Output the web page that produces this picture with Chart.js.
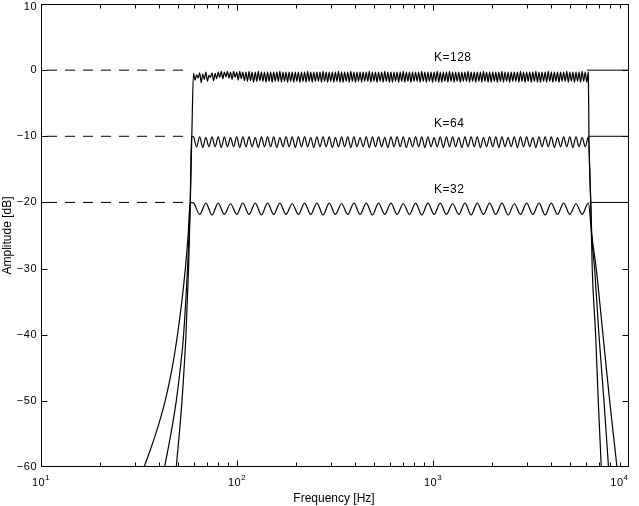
<!DOCTYPE html>
<html>
<head>
<meta charset="utf-8">
<script src="https://cdn.jsdelivr.net/npm/chart.js@4.4.0/dist/chart.umd.min.js"></script>
<style>
  html, body { margin: 0; padding: 0; background: #fff; }
</style>
</head>
<body>
<canvas id="myChart" width="639" height="506"></canvas>
<script>
// axis ranges
const freqRange = [10, 10000]
const ampRange = [-60, 10]
const xMajorTicks = [10, 100, 1000, 10000]
const xTickExp = ['1', '2', '3', '4']
const xMinorTicks = [20, 30, 40, 50, 60, 70, 80, 90, 200, 300, 400, 500, 600, 700, 800, 900,
  2000, 3000, 4000, 5000, 6000, 7000, 8000, 9000]
const yTicks = [-60, -50, -40, -30, -20, -10, 0, 10]

// frequencies (Hz) of the ripple peaks / troughs across the pass band
const rippleHz = [
  60, 61.1, 62.21, 63.35, 64.51, 65.69, 66.89, 68.11, 69.36, 70.63, 71.92, 73.23, 74.57, 75.94, 77.32, 78.74,
  80.18, 81.64, 83.13, 84.65, 86.2, 87.78, 89.38, 91.02, 92.68, 94.37, 96.1, 97.86, 99.65, 101.5, 103.3, 105.2,
  107.1, 109.1, 111.1, 113.1, 115.2, 117.3, 119.4, 121.6, 123.9, 126.1, 128.4, 130.8, 133.2, 135.6, 138.1, 140.6,
  143.2, 145.8, 148.5, 151.2, 153.9, 156.7, 159.6, 162.5, 165.5, 168.5, 171.6, 174.7, 177.9, 181.2, 184.5, 187.9,
  191.3, 194.8, 198.4, 202, 205.7, 209.4, 213.3, 217.2, 221.2, 225.2, 229.3, 233.5, 237.8, 242.1, 246.5, 251.1,
  255.6, 260.3, 265.1, 269.9, 274.8, 279.9, 285, 290.2, 295.5, 300.9, 306.4, 312, 317.7, 323.5, 329.5, 335.5,
  341.6, 347.8, 354.2, 360.7, 367.3, 374, 380.8, 387.8, 394.9, 402.1, 409.4, 416.9, 424.6, 432.3, 440.2, 448.3,
  456.5, 464.8, 473.3, 482, 490.8, 499.8, 508.9, 518.2, 527.7, 537.3, 547.1, 557.1, 567.3, 577.7, 588.3, 599,
  610, 621.1, 632.5, 644.1, 655.8, 667.8, 680, 692.4, 705.1, 718, 731.1, 744.5, 758.1, 772, 786.1, 800.5,
  815.1, 830, 845.2, 860.6, 876.3, 892.4, 908.7, 925.3, 942.2, 959.4, 977, 994.9, 1013, 1032, 1050, 1070,
  1089, 1109, 1129, 1150, 1171, 1192, 1214, 1236, 1259, 1282, 1305, 1329, 1354, 1378, 1404, 1429,
  1455, 1482, 1509, 1537, 1565, 1593, 1623, 1652, 1682, 1713, 1745, 1776, 1809, 1842, 1876, 1910,
  1945, 1980, 2017, 2054, 2091, 2129, 2168, 2208, 2248, 2289, 2331, 2374, 2417, 2461, 2506, 2552,
  2599, 2646, 2695, 2744, 2794, 2845, 2897, 2950, 3004, 3059, 3115, 3172, 3230, 3289, 3349, 3410,
  3473, 3536, 3601, 3667, 3734, 3802, 3871, 3942, 4014, 4088, 4162, 4238, 4316, 4395, 4475, 4557,
  4640, 4725, 4812, 4900, 4989, 5080, 5173, 5268, 5364, 5462, 5562, 5664, 5767, 5873, 5980, 6090,
  6201
]

// K=32 ripple, sits on every 4th entry of rippleHz
const k32Ripple = [
  -20.1, -21.8, -20.1, -21.9, -20.1, -21.8, -20.2, -21.8, -20.1, -21.8, -20.1, -21.9, -20.1, -21.8, -20.1, -21.8,
  -20.2, -21.8, -20.1, -21.8, -20.1, -21.9, -20.1, -21.8, -20.2, -21.8, -20.1, -21.8, -20.1, -21.9, -20.1, -21.8,
  -20.1, -21.8, -20.2, -21.8, -20.1, -21.9, -20.1, -21.8, -20.1, -21.8, -20.2, -21.8, -20.1, -21.9, -20.1, -21.8,
  -20.1, -21.8, -20.1, -21.9, -20.2, -21.8, -20.1, -21.8, -20.1, -21.9, -20.1, -21.8, -20.1, -21.8, -20.2, -21.8,
  -20.1
]
// K=64 ripple, every 2nd entry of rippleHz
const k64Ripple = [
  -10.1, -11.6, -10.1, -11.7, -10.2, -11.6, -10.1, -11.6, -10.1, -11.7, -10.1, -11.6, -10.2, -11.6, -10.1, -11.7,
  -10.1, -11.6, -10.1, -11.6, -10.2, -11.7, -10.1, -11.6, -10.1, -11.6, -10.1, -11.7, -10.2, -11.6, -10.1, -11.6,
  -10.1, -11.7, -10.1, -11.6, -10.1, -11.6, -10.2, -11.7, -10.1, -11.6, -10.1, -11.6, -10.1, -11.7, -10.2, -11.6,
  -10.1, -11.6, -10.1, -11.7, -10.1, -11.6, -10.2, -11.6, -10.1, -11.7, -10.1, -11.6, -10.1, -11.6, -10.2, -11.7,
  -10.1, -11.6, -10.1, -11.6, -10.1, -11.7, -10.2, -11.6, -10.1, -11.6, -10.1, -11.7, -10.1, -11.6, -10.2, -11.6,
  -10.1, -11.7, -10.1, -11.6, -10.1, -11.6, -10.2, -11.7, -10.1, -11.6, -10.1, -11.6, -10.1, -11.7, -10.2, -11.6,
  -10.1, -11.6, -10.1, -11.7, -10.1, -11.6, -10.2, -11.6, -10.1, -11.7, -10.1, -11.6, -10.1, -11.6, -10.2, -11.7,
  -10.1, -11.6, -10.1, -11.6, -10.1, -11.7, -10.2, -11.6, -10.1, -11.6, -10.1, -11.7, -10.1, -11.6, -10.2, -11.6,
  -10.1
]
// K=128 ripple, every entry of rippleHz (ragged near the lower edge)
const k128Ripple = [
  -0.5, -1.5, -0.7, -1.2, -0.4, -1.9, -0.6, -1.4, -0.3, -1.7, -0.8, -1.1, -0.4, -1.6, -0.5, -1.3,
  -0.3, -1.1, -0.2, -1.3, -0.3, -1.0, -0.2, -1.2, -0.3, -1.4, -0.2, -1.1, -0.3, -1.5, -0.2, -1.3,
  -0.3, -1.6, -0.3, -1.7, -0.2, -1.6, -0.3, -1.8, -0.3, -1.7, -0.2, -1.6, -0.3, -1.7, -0.3, -1.8,
  -0.3, -1.7, -0.3, -1.8, -0.3, -1.7, -0.3, -1.7, -0.2, -1.8, -0.3, -1.7, -0.3, -1.8, -0.3, -1.7,
  -0.3, -1.8, -0.3, -1.7, -0.3, -1.8, -0.3, -1.7, -0.3, -1.8, -0.2, -1.7, -0.3, -1.8, -0.3, -1.7,
  -0.3, -1.7, -0.3, -1.8, -0.2, -1.7, -0.3, -1.8, -0.3, -1.7, -0.3, -1.8, -0.3, -1.7, -0.2, -1.8,
  -0.3, -1.8, -0.3, -1.7, -0.3, -1.8, -0.2, -1.7, -0.3, -1.8, -0.3, -1.7, -0.3, -1.8, -0.3, -1.7,
  -0.3, -1.7, -0.2, -1.8, -0.3, -1.7, -0.3, -1.8, -0.3, -1.7, -0.3, -1.8, -0.2, -1.7, -0.3, -1.8,
  -0.3, -1.8, -0.3, -1.7, -0.3, -1.8, -0.3, -1.7, -0.2, -1.8, -0.3, -1.7, -0.3, -1.8, -0.3, -1.7,
  -0.3, -1.7, -0.3, -1.8, -0.2, -1.7, -0.3, -1.8, -0.3, -1.7, -0.3, -1.8, -0.3, -1.7, -0.2, -1.8,
  -0.3, -1.8, -0.3, -1.7, -0.3, -1.8, -0.2, -1.7, -0.3, -1.8, -0.3, -1.7, -0.3, -1.8, -0.3, -1.7,
  -0.3, -1.7, -0.2, -1.8, -0.3, -1.7, -0.3, -1.8, -0.3, -1.7, -0.3, -1.8, -0.2, -1.7, -0.3, -1.8,
  -0.3, -1.8, -0.3, -1.7, -0.3, -1.8, -0.3, -1.7, -0.2, -1.8, -0.3, -1.7, -0.3, -1.8, -0.3, -1.7,
  -0.3, -1.7, -0.3, -1.8, -0.2, -1.7, -0.3, -1.8, -0.3, -1.7, -0.3, -1.8, -0.3, -1.7, -0.2, -1.8,
  -0.3, -1.8, -0.3, -1.7, -0.3, -1.8, -0.2, -1.7, -0.3, -1.8, -0.3, -1.7, -0.3, -1.8, -0.3, -1.7,
  -0.3, -1.7, -0.2, -1.8, -0.3, -1.7, -0.3, -1.8, -0.3, -1.7, -0.3, -1.8, -0.2, -1.7, -0.3, -1.8,
  -0.3
]

// skirts below and above the pass band
const k32LowHz = [33.6, 38.5, 43.0, 46.7, 49.7, 52.3, 54.5, 56.3, 57.7]
const k32LowDb = [-60, -55, -50, -45, -40, -35, -30, -25, -20]
const k64LowHz = [42.7, 46.0, 49.0, 51.4, 53.4, 55.9, 57.7, 58.6]
const k64LowDb = [-60, -55, -50, -45, -40, -30, -20, -10]
const k128LowHz = [49.0, 52.4, 54.9, 56.6, 57.8, 58.8]
const k128LowDb = [-60, -50, -40, -30, -20, -10]

const k32HighHz = [6460, 6804, 7364, 7968, 8681]
const k32HighDb = [-25, -30, -40, -50, -60]
const k64HighHz = [6380, 6460, 6677, 7024, 7451, 7860]
const k64HighDb = [-20, -25, -30, -40, -50, -60]
const k128HighHz = [6245, 6380, 6492, 6757, 6968, 7220]
const k128HighDb = [-10, -20, -30, -40, -50, -60]

// reference levels: dashed left part, solid right part
const refLevels = [0, -10, -20]
const refLabels = ['K=128', 'K=64', 'K=32']
const refDashEndHz = [58, 58.5, 58]
const refSolidStartHz = [6100, 6200, 6300]
const refLabelHz = 1000

function curve(lowHz, lowDb, ripple, step, highHz, highDb) {
  const pts = lowHz.map((f, i) => ({x: f, y: lowDb[i]}))
  ripple.forEach((db, i) => pts.push({x: rippleHz[i * step], y: db}))
  highHz.forEach((f, i) => pts.push({x: f, y: highDb[i]}))
  return pts
}

const datasets = [
  {data: curve(k32LowHz, k32LowDb, k32Ripple, 4, k32HighHz, k32HighDb), cubicInterpolationMode: 'monotone'},
  {data: curve(k64LowHz, k64LowDb, k64Ripple, 2, k64HighHz, k64HighDb), cubicInterpolationMode: 'monotone'},
  {data: curve(k128LowHz, k128LowDb, k128Ripple, 1, k128HighHz, k128HighDb), cubicInterpolationMode: 'monotone'}
]
refLevels.forEach((lv, i) => {
  datasets.push({data: [{x: freqRange[0], y: lv}, {x: refDashEndHz[i], y: lv}], borderDash: [10, 8], borderDashOffset: 12, borderWidth: 1})
  datasets.push({data: [{x: refSolidStartHz[i], y: lv}, {x: freqRange[1], y: lv}], borderWidth: 1})
})

const font = "'Liberation Sans', Arial, Helvetica, sans-serif"

// box, inward ticks and texts in the old matlab style
const matlabAxes = {
  id: 'matlabAxes',
  afterDraw(chart) {
    const ctx = chart.ctx
    const a = chart.chartArea
    const sx = chart.scales.x
    const sy = chart.scales.y
    const left = Math.floor(a.left) + 0.5
    const right = Math.ceil(a.right) - 0.5
    const top = Math.floor(a.top) + 0.5
    const bottom = Math.ceil(a.bottom) - 0.5
    const px = v => Math.min(right, Math.round(sx.getPixelForValue(v)) + 0.5)
    const py = v => Math.min(bottom, Math.round(sy.getPixelForValue(v)) + 0.5)

    ctx.save()
    ctx.strokeStyle = '#000'
    ctx.lineWidth = 1
    ctx.beginPath()
    xMajorTicks.forEach(v => {
      const X = px(v)
      ctx.moveTo(X, bottom); ctx.lineTo(X, bottom - 6)
      ctx.moveTo(X, top); ctx.lineTo(X, top + 6)
    })
    xMinorTicks.forEach(v => {
      const X = px(v)
      ctx.moveTo(X, bottom); ctx.lineTo(X, bottom - 4)
      ctx.moveTo(X, top); ctx.lineTo(X, top + 4)
    })
    yTicks.forEach(v => {
      const Y = py(v)
      ctx.moveTo(left, Y); ctx.lineTo(left + 6, Y)
      ctx.moveTo(right, Y); ctx.lineTo(right - 6, Y)
    })
    ctx.stroke()
    ctx.strokeRect(left, top, right - left, bottom - top)

    ctx.fillStyle = '#000'
    ctx.letterSpacing = '0.5px'
    // y tick labels
    ctx.font = '11px ' + font
    ctx.textAlign = 'right'
    ctx.textBaseline = 'middle'
    yTicks.forEach(v => {
      const txt = v < 0 ? '\u2212' + (-v) : String(v)
      ctx.fillText(txt, 37, Math.max(7, sy.getPixelForValue(v)))
    })
    // x tick labels 10^n
    ctx.textAlign = 'left'
    ctx.textBaseline = 'alphabetic'
    xMajorTicks.forEach((v, i) => {
      ctx.font = '11px ' + font
      const wBase = ctx.measureText('10').width
      ctx.font = '8px ' + font
      const wExp = ctx.measureText(xTickExp[i]).width
      let x0 = sx.getPixelForValue(v) - (wBase + wExp) / 2
      if (x0 + wBase + wExp > right) x0 = right - wBase - wExp
      ctx.font = '11px ' + font
      ctx.fillText('10', x0, 486)
      ctx.font = '8px ' + font
      ctx.fillText(xTickExp[i], x0 + wBase, 480)
    })
    // level labels
    ctx.font = '12px ' + font
    refLevels.forEach((lv, i) => {
      ctx.fillText(refLabels[i], sx.getPixelForValue(refLabelHz) + 1, sy.getPixelForValue(lv) - 9)
    })
    // axis titles
    ctx.letterSpacing = '0px'
    ctx.textAlign = 'center'
    ctx.fillText('Frequency [Hz]', (a.left + a.right) / 2 - 1, 502)
    ctx.translate(11, (a.top + a.bottom) / 2)
    ctx.rotate(-Math.PI / 2)
    ctx.fillText('Amplitude [dB]', 0, 0)
    ctx.restore()
  }
}

const ctx = document.getElementById('myChart')

const config = {
  type: 'line',
  data: {datasets: datasets},
  options: {
    responsive: false,
    animation: false,
    devicePixelRatio: 1,
    layout: {padding: {left: 41, top: 4, right: 10, bottom: 39}},
    elements: {
      point: {radius: 0},
      line: {borderWidth: 1.2, borderColor: '#000', fill: false}
    },
    plugins: {
      legend: {display: false},
      tooltip: {enabled: false}
    },
    scales: {
      x: {type: 'logarithmic', min: freqRange[0], max: freqRange[1], display: false},
      y: {type: 'linear', min: ampRange[0], max: ampRange[1], display: false}
    }
  },
  plugins: [matlabAxes]
}

const myChart = new Chart(ctx, config)
</script>
</body>
</html>
